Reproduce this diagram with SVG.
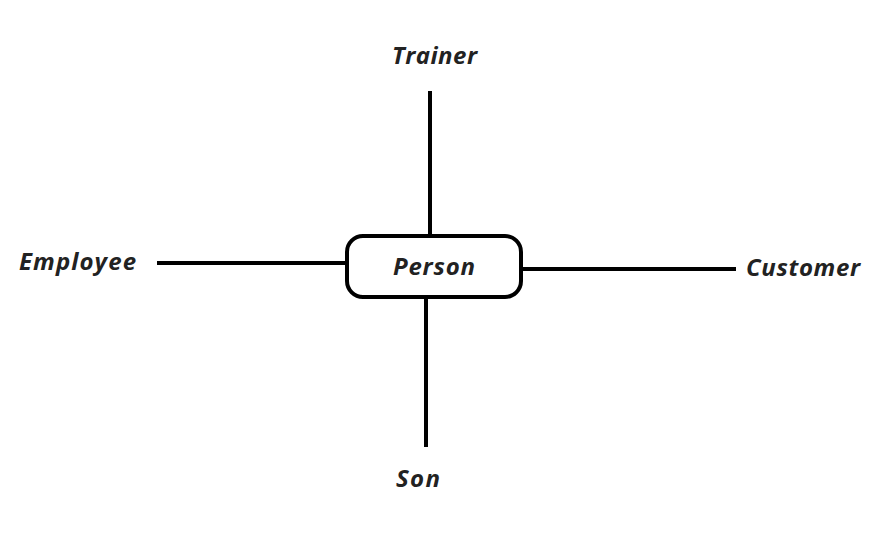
<svg xmlns="http://www.w3.org/2000/svg" width="891" height="534" viewBox="0 0 891 534">
<style>
.lbl{font-family:"Open Sans","Liberation Sans",sans-serif;font-weight:bold;font-style:italic;font-size:24px;fill:#222}
.ln{stroke:#000;stroke-width:4;fill:none}
</style>
<rect width="891" height="534" fill="#fff"/>
<g id="connectors">
<line class="ln" x1="430" y1="91" x2="430" y2="236"/>
<line class="ln" x1="157" y1="263" x2="347" y2="263"/>
<line class="ln" x1="521" y1="269" x2="736" y2="269"/>
<line class="ln" x1="426" y1="297" x2="426" y2="447"/>
</g>
<g id="person">
<rect class="ln" x="347" y="236" width="174" height="61" rx="16"/>
<text class="lbl" x="393" y="275" textLength="82" lengthAdjust="spacing">Person</text>
</g>
<g id="trainer"><text class="lbl" x="392" y="64" textLength="85" lengthAdjust="spacing">Trainer</text></g>
<g id="employee"><text class="lbl" x="19" y="270" textLength="117" lengthAdjust="spacing">Employee</text></g>
<g id="customer"><text class="lbl" x="746" y="276" textLength="114" lengthAdjust="spacing">Customer</text></g>
<g id="son"><text class="lbl" x="396" y="487" textLength="44" lengthAdjust="spacing">Son</text></g>
</svg>
